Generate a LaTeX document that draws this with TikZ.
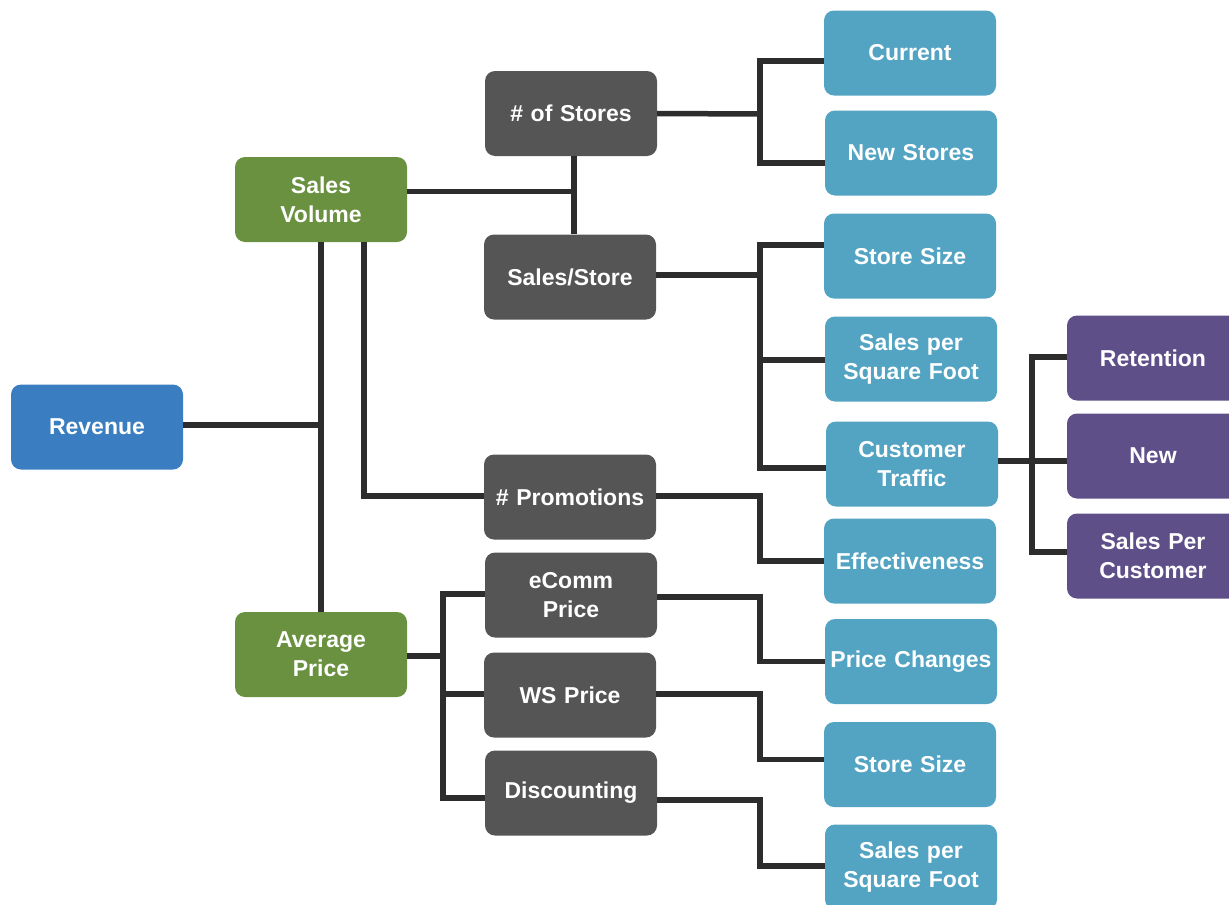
\documentclass[tikz,border=0pt]{standalone}
\usepackage{fontspec}
\setmainfont{Liberation Sans}
\usepackage{xcolor}
\usetikzlibrary{positioning, calc}

\definecolor{revblue}{HTML}{3A7EC1}
\definecolor{volgreen}{HTML}{69913F}
\definecolor{drvgray}{HTML}{555555}
\definecolor{leafblue}{HTML}{53A3C3}
\definecolor{custpurple}{HTML}{5E4F89}
\definecolor{linkgray}{HTML}{2D2D2D}

\begin{document}
\begin{tikzpicture}[
    x=1pt, y=-1pt,
    box/.style={rectangle, rounded corners=10pt, text=white, align=center, text width=166pt,
        minimum width=172pt, minimum height=85pt, inner sep=2pt,
        font=\bfseries\fontsize{23}{29}\selectfont},
    revbox/.style={box, fill=revblue},
    volbox/.style={box, fill=volgreen},
    drvbox/.style={box, fill=drvgray},
    leafbox/.style={box, fill=leafblue},
    custbox/.style={box, fill=custpurple},
    link/.style={draw=linkgray, line width=5.5pt, line join=miter}
]
    \useasboundingbox (0,0) rectangle (1229,905);

    % Root and first level
    \node[revbox] (rev) at (97,427) {Revenue};
    \node[volbox] (sv) at (321,199.5) {Sales\\Volume};
    \node[volbox] (ap) at (321,654.5) {Average\\Price};

    % Drivers
    \node[drvbox] (stores) at (571,113.5) {\# of Stores};
    \node[drvbox] (sps) at (570,277) {Sales/Store};
    \node[drvbox] (promo) at (570,497) {\# Promotions};
    \node[drvbox] (ecomm) at (571,595) {eComm\\Price};
    \node[drvbox] (ws) at (570,695) {WS Price};
    \node[drvbox] (disc) at (571,793) {Discounting};

    % Leaves
    \node[leafbox] (cur) at (910,53) {Current};
    \node[leafbox] (newst) at (911,153) {New Stores};
    \node[leafbox] (size1) at (910,256) {Store Size};
    \node[leafbox] (spsf1) at (911,359) {Sales per\\Square Foot};
    \node[leafbox] (traffic) at (912,464) {Customer\\Traffic};
    \node[leafbox] (eff) at (910,561) {Effectiveness};
    \node[leafbox] (price) at (911,661.5) {Price Changes};
    \node[leafbox] (size2) at (910,764.5) {Store Size};
    \node[leafbox] (spsf2) at (911,867) {Sales per\\Square Foot};

    % Customer traffic split
    \node[custbox] (ret) at (1153,358) {Retention};
    \node[custbox] (newc) at (1153,456) {New};
    \node[custbox] (spc) at (1153,556) {Sales Per\\Customer};

    % Junctions
    \coordinate (apj) at (443,656);
    \coordinate (stj) at (760,114);
    \coordinate (ssj) at (760,275);
    \coordinate (trj) at (1032,461);
    \coordinate (svj) at ([xshift=3pt]stores.south);

    % Revenue tree
    \draw[link] (sv.south) -- (ap.north);
    \draw[link] ([yshift=2pt]rev.east) -- ([yshift=2pt]rev.east -| sv.south);
    \draw[link] ([xshift=43pt]sv.south) |- ([yshift=1pt]promo.west);
    \draw[link] (svj) -- (svj |- sps.north);
    \draw[link] ([yshift=8pt]sv.east) -- ([yshift=8pt]sv.east -| svj);

    % Average price bracket
    \draw[link] ([yshift=-1.5pt]ap.east) -- (apj);
    \draw[link] ([yshift=1pt]ecomm.west) -| (apj) |- ([yshift=-5pt]disc.west);
    \draw[link] ([yshift=1pt]ws.west) -- ([yshift=1pt]ws.west -| apj);

    % Store branches
    \draw[link] (stores.east) -- (stj);
    \draw[link] ([yshift=-8pt]cur.west) -| (stj) |- ([yshift=-10pt]newst.west);
    \draw[link] ([yshift=2pt]sps.east) -- (ssj);
    \draw[link] ([yshift=11pt]size1.west) -| (ssj) |- ([yshift=-4pt]traffic.west);
    \draw[link] ([yshift=-1pt]spsf1.west) -- ([yshift=-1pt]spsf1.west -| ssj);

    % Elbows to leaves
    \draw[link] ([yshift=1pt]promo.east) -- ([yshift=1pt]promo.east -| stj) |- (eff.west);
    \draw[link] ([yshift=-2pt]ecomm.east) -- ([yshift=-2pt]ecomm.east -| stj) |- (price.west);
    \draw[link] ([yshift=1pt]ws.east) -- ([yshift=1pt]ws.east -| stj) |- ([yshift=5pt]size2.west);
    \draw[link] ([yshift=-7pt]disc.east) -- ([yshift=-7pt]disc.east -| stj) |- ([yshift=1pt]spsf2.west);

    % Customer traffic bracket
    \draw[link] ([yshift=3pt]traffic.east) -- (trj);
    \draw[link] ([yshift=1pt]ret.west) -| (trj) |- ([yshift=4pt]spc.west);
    \draw[link] (trj) -- ([yshift=-5pt]newc.west);
\end{tikzpicture}
\end{document}
